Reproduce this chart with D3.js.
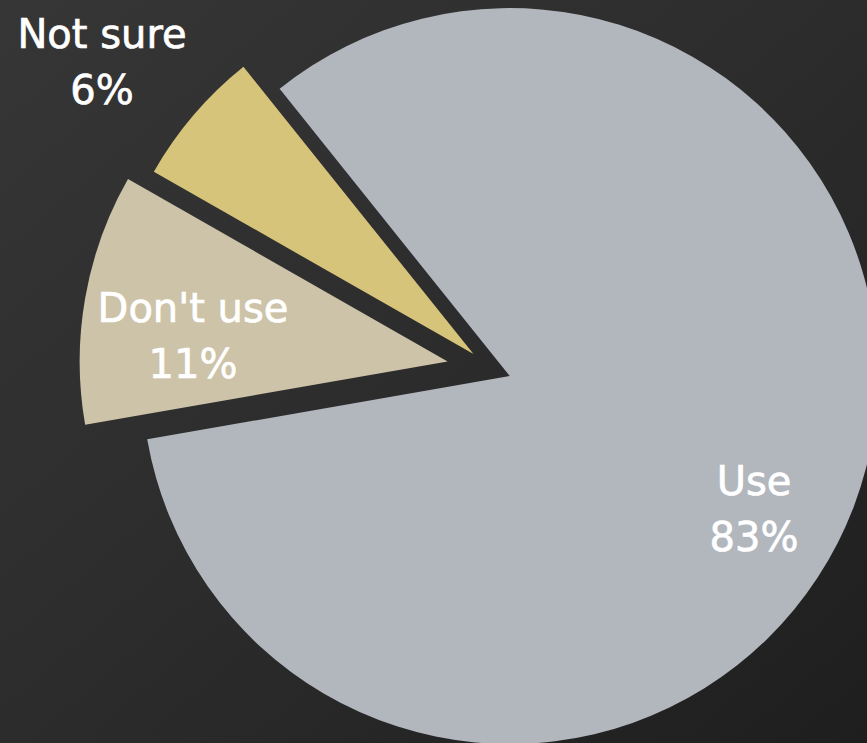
<!DOCTYPE html>
<html>
<head>
<meta charset="utf-8">
<script src="https://cdn.jsdelivr.net/npm/d3@7"></script>
<style>
html,body{margin:0;padding:0;background:#2a2a2a;}
svg{display:block;}
</style>
</head>
<body>
<svg id="chart" width="867" height="743"></svg>
<script>
const categories = ["Use", "Don't use", "Not sure"];
const values = [83, 11, 6];
const percentLabels = ["83%", "11%", "6%"];
const colors = ["#b2b6bd", "#cdc3a8", "#d7c47b"];
const explode = [20, 44, 23];
// label anchor positions (centre of the two-line label)
const labelPos = [[754, 495], [193, 322], [102, 48]];

const W = 867, H = 743;
const svg = d3.select("#chart");

const defs = svg.append("defs");
const grad = defs.append("linearGradient").attr("id", "bg")
  .attr("x1", "0").attr("y1", "0").attr("x2", "1").attr("y2", "1");
grad.append("stop").attr("offset", "0").attr("stop-color", "#363636");
grad.append("stop").attr("offset", "0.5").attr("stop-color", "#2c2c2c");
grad.append("stop").attr("offset", "1").attr("stop-color", "#1e1e1e");
svg.append("rect").attr("width", W).attr("height", H).attr("fill", "url(#bg)");

const cx = 491, cy = 369, R = 368;
const toRad = Math.PI / 180;

const pie = d3.pie().sort(null).value(d => d)
  .startAngle(-38.7 * toRad).endAngle((360 - 38.7) * toRad);
const arcs = pie(values);
const arc = d3.arc().innerRadius(0).outerRadius(R);

const g = svg.append("g").attr("transform", `translate(${cx},${cy})`);
g.selectAll("path").data(arcs).join("path")
  .attr("d", arc)
  .attr("fill", (d, i) => colors[i])
  .attr("transform", (d, i) => {
    const m = (d.startAngle + d.endAngle) / 2;
    return `translate(${Math.sin(m) * explode[i]},${-Math.cos(m) * explode[i]})`;
  });

const lbl = svg.append("g")
  .attr("font-family", "'DejaVu Sans', sans-serif")
  .attr("font-size", 40)
  .attr("fill", "#ffffff")
  .attr("stroke", "#ffffff")
  .attr("stroke-width", 0.7)
  .attr("text-anchor", "middle");
categories.forEach((c, i) => {
  const [x, y] = labelPos[i];
  lbl.append("text").attr("x", x).attr("y", y).text(c);
  lbl.append("text").attr("x", x).attr("y", y + 56).text(percentLabels[i]);
});
</script>
</body>
</html>
